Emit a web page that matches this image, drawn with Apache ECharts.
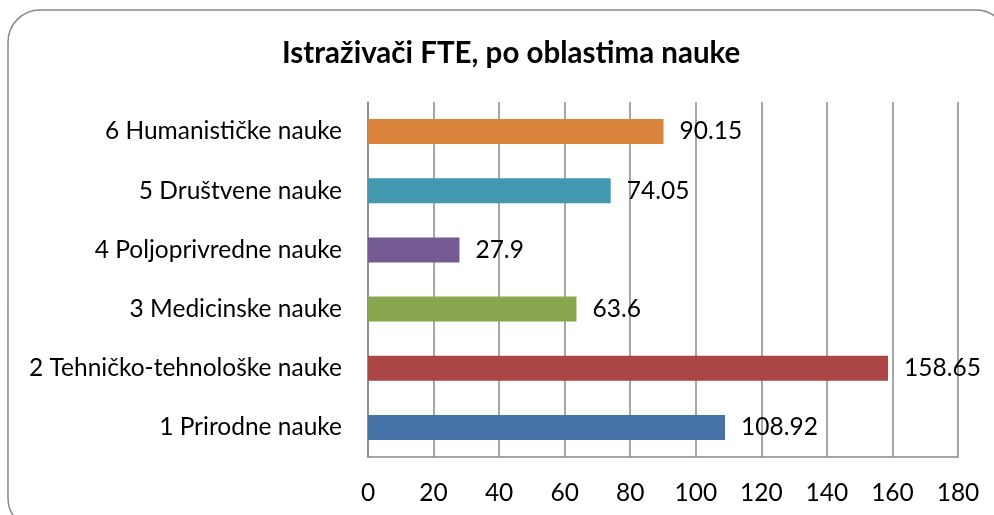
<!DOCTYPE html>
<html>
<head>
<meta charset="UTF-8">
<script src="https://cdn.jsdelivr.net/npm/echarts@6/dist/echarts.min.js"></script>
<style>
  body { margin: 0; padding: 0; background: #fff; }
  #chart { width: 994px; height: 515px; }
</style>
</head>
<body>
<div id="chart"></div>
<script>
// podaci
const categories = [
  '1 Prirodne nauke',
  '2 Tehničko-tehnološke nauke',
  '3 Medicinske nauke',
  '4 Poljoprivredne nauke',
  '5 Društvene nauke',
  '6 Humanističke nauke'
];
const values = [108.92, 158.65, 63.6, 27.9, 74.05, 90.15];
const colors = ['#4572A7', '#AA4643', '#89A54E', '#735A92', '#4299B0', '#DB843D'];

const font = 'Lato, "Open Sans", sans-serif';

const chart = echarts.init(document.getElementById('chart'));

chart.setOption({
  animation: false,
  graphic: [{
    type: 'rect',
    shape: { x: 8, y: 10, width: 1000, height: 520, r: 32 },
    style: { fill: 'none', stroke: '#888', lineWidth: 1.5 },
    z: -1
  }],
  title: {
    text: 'Istraživači FTE, po oblastima nauke',
    left: 277,
    top: 33,
    textStyle: { fontFamily: font, fontSize: 29.5, fontWeight: 'bold', color: '#000' }
  },
  grid: { left: 368, right: 36, top: 102, bottom: 58 },
  xAxis: {
    type: 'value',
    min: 0,
    max: 180,
    interval: 20,
    axisLine: { show: true, lineStyle: { color: '#888', width: 1.5 } },
    axisTick: { show: false },
    splitLine: { show: true, lineStyle: { color: '#888', width: 1.5 } },
    axisLabel: { fontFamily: font, fontSize: 24.5, color: '#000', margin: 24 }
  },
  yAxis: {
    type: 'category',
    data: categories,
    axisLine: { show: true, lineStyle: { color: '#888', width: 1.5 } },
    axisTick: { show: false },
    axisLabel: { fontFamily: font, fontSize: 24.5, color: '#000', margin: 26 }
  },
  series: [{
    type: 'bar',
    barWidth: 25,
    data: values.map((v, i) => ({ value: v, itemStyle: { color: colors[i] } })),
    label: {
      show: true,
      position: 'right',
      distance: 16,
      fontFamily: font,
      fontSize: 24.5,
      color: '#000'
    }
  }]
});
</script>
</body>
</html>
